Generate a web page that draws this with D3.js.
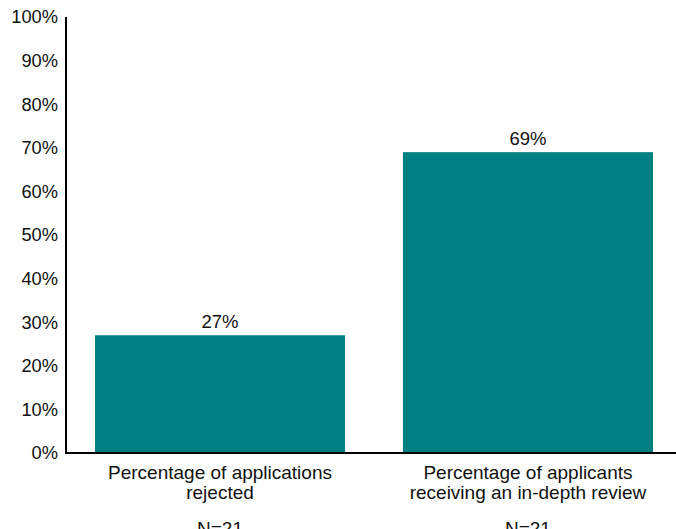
<!DOCTYPE html>
<html><head><meta charset="utf-8">
<script src="https://cdn.jsdelivr.net/npm/d3@7"></script>
<style>body{margin:0;background:#fff}text{font-family:"Liberation Sans",Arial,sans-serif;fill:#111}</style>
</head><body>
<svg id="c" width="676" height="529"></svg>
<script>
const categories = [["Percentage of applications","rejected"],["Percentage of applicants","receiving an in-depth review"]];
const values = [27, 69];
const nLabels = ["N=21","N=21"];
const yTicks = [0,10,20,30,40,50,60,70,80,90,100];

const svg = d3.select("#c");
const mLeft = 66, mRight = 676, mTop = 17, mBottom = 453;
const y = d3.scaleLinear().domain([0,100]).range([mBottom, mTop]);
const x = d3.scaleBand().domain(d3.range(values.length)).range([66, 682]).paddingInner(0.188).paddingOuter(0.0942);

svg.selectAll("rect.bar").data(values).join("rect")
  .attr("x",(d,i)=>x(i)).attr("width",x.bandwidth())
  .attr("y",d=>y(d)).attr("height",d=>mBottom-y(d)).attr("fill","#008080");

svg.selectAll("text.val").data(values).join("text")
  .attr("x",(d,i)=>x(i)+x.bandwidth()/2).attr("y",d=>y(d)-7.5)
  .attr("text-anchor","middle").attr("font-size",18.5).text(d=>d+"%");

const yAxis = d3.axisLeft(y).tickValues(yTicks).tickFormat(d=>d+"%").tickSize(0).tickPadding(8);
const g = svg.append("g").attr("transform",`translate(${mLeft},0)`).call(yAxis);
g.select(".domain").remove();
g.selectAll("text").attr("font-size",18.3).attr("fill","#111").attr("font-family","Liberation Sans, Arial, sans-serif");

svg.append("line").attr("x1",mLeft).attr("x2",mLeft).attr("y1",mTop).attr("y2",mBottom+1).attr("stroke","#000").attr("stroke-width",2);
svg.append("line").attr("x1",mLeft-1).attr("x2",mRight).attr("y1",mBottom).attr("y2",mBottom).attr("stroke","#000").attr("stroke-width",2);

categories.forEach((lines,i)=>{
  const cx = x(i)+x.bandwidth()/2;
  lines.forEach((t,j)=>{
    svg.append("text").attr("x",cx).attr("y",479+j*19.5).attr("text-anchor","middle").attr("font-size",19).text(t);
  });
  svg.append("text").attr("x",cx).attr("y",535).attr("text-anchor","middle").attr("font-size",19).text(nLabels[i]);
});
</script>
</body></html>
